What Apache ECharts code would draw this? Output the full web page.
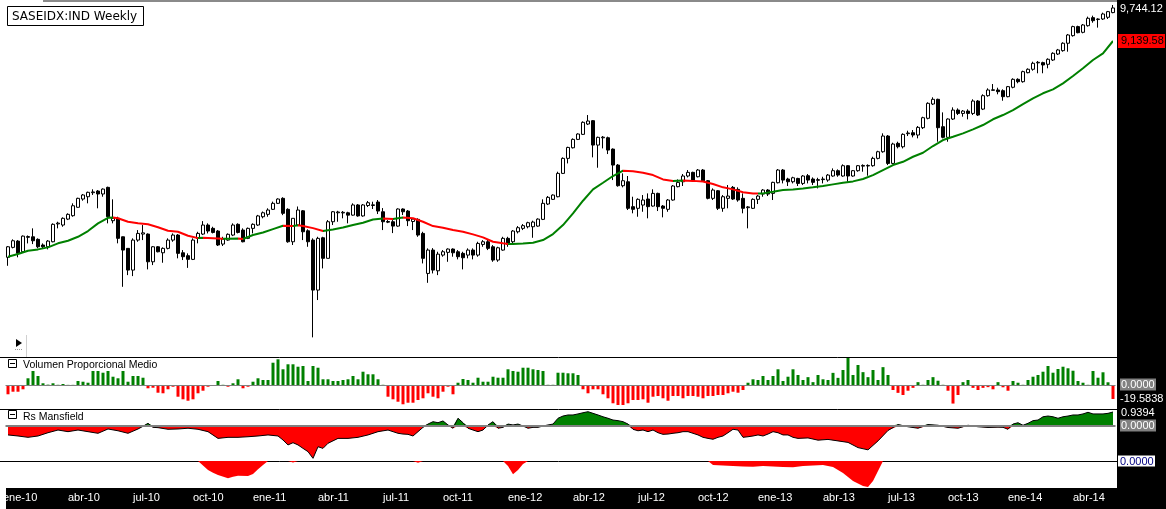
<!DOCTYPE html>
<html><head><meta charset="utf-8">
<script src="https://cdn.jsdelivr.net/npm/echarts@6/dist/echarts.min.js"></script>
<style>
html,body{margin:0;padding:0;background:#fff;}
#wrap{position:relative;width:1166px;height:509px;overflow:hidden;background:#fff;}
.strip{position:absolute;background:#000;}
#chart{position:absolute;left:0;top:0;width:1166px;height:509px;}
</style></head><body>
<div id="wrap">
<div class="strip" style="left:1117px;top:0;width:49px;height:509px"></div>
<div class="strip" style="left:6px;top:488px;width:1111px;height:21px"></div>
<div id="chart"></div>
</div>
<script>
// ---- weekly candles (SASEIDX:IND) ----
const opens = [6008,6125,6200,6073,6245,6252,6221,6153,6132,6192,
6410,6396,6470,6513,6620,6727,6757,6810,6832,6793,
6881,6450,6480,6252,6113,5861,6212,6285,6285,5956,
6132,6061,6113,6212,6273,6061,6027,5984,6233,6285,
6396,6355,6322,6164,6212,6273,6405,6334,6233,6355,
6396,6500,6530,6594,6671,6736,6594,6192,6396,6575,
6325,6212,5638,6240,5996,6437,6550,6548,6550,6520,
6650,6510,6643,6643,6688,6563,6440,6437,6383,6598,
6572,6440,6467,6293,5823,6093,5853,6034,6066,6105,
6073,6054,6034,6093,6034,6160,6192,6132,5976,6093,
6233,6192,6313,6355,6375,6375,6383,6467,6662,6723,
6757,7070,7279,7430,7552,7626,7780,7831,7469,7575,
7576,7411,7185,6903,6956,6628,6607,6649,6727,6636,
6801,6636,6594,6714,6890,6956,7034,7084,7024,7116,
6970,6736,6836,6607,6736,6881,6854,6736,6615,6607,
6723,6792,6845,6801,6943,7116,6993,6956,7001,6934,
7038,6993,6975,6985,6979,7034,7107,7034,7176,7034,
7107,7170,7172,7176,7279,7373,7601,7208,7494,7445,
7636,7650,7616,7725,7867,8088,8162,7740,7582,7856,
7994,7942,7978,7942,8135,8009,8220,8305,8311,8300,
8204,8355,8485,8446,8595,8652,8760,8764,8736,8809,
8912,8970,9100,9235,9398,9295,9415,9563,9528,9538,
9570,9657];
const highs = [6141,6221,6212,6268,6268,6355,6233,6172,6212,6417,
6437,6492,6543,6671,6744,6793,6824,6855,6845,6867,
6890,6723,6500,6255,6113,6233,6334,6396,6293,6141,
6141,6125,6233,6293,6285,6093,6054,6233,6313,6445,
6417,6375,6334,6252,6293,6417,6417,6355,6365,6417,
6523,6566,6607,6693,6736,6750,6607,6480,6630,6585,
6343,6233,6252,6252,6458,6572,6575,6572,6563,6671,
6662,6662,6701,6692,6714,6610,6458,6458,6606,6606,
6585,6480,6480,6313,6113,6116,6073,6093,6113,6113,
6093,6073,6113,6113,6192,6212,6220,6152,6132,6252,
6252,6334,6383,6408,6437,6450,6480,6723,6766,6788,
7093,7293,7445,7567,7641,7821,7917,7841,7592,7601,
7592,7421,7199,7070,7034,6757,6736,6779,6801,6855,
6810,6649,6727,6912,6988,7061,7116,7093,7130,7130,
6979,6867,6845,6779,6912,6899,6881,6801,6636,6736,
6779,6858,6858,6956,7130,7130,7010,7024,7010,7047,
7061,7015,7010,7024,7061,7139,7125,7195,7185,7116,
7185,7195,7195,7302,7387,7641,7616,7503,7518,7641,
7680,7690,7750,7891,8115,8194,8172,7958,7866,8036,
8020,7994,8005,8162,8151,8242,8338,8408,8348,8322,
8376,8502,8502,8628,8668,8780,8792,8780,8838,8942,
9000,9117,9265,9415,9415,9446,9582,9600,9551,9656,
9688,9800];
const lows = [5910,6113,6008,6066,6172,6164,6113,6113,6101,6185,
6355,6375,6458,6500,6615,6705,6671,6780,6607,6757,
6417,6417,6173,5674,5804,5793,6192,6212,5869,5918,
6066,5945,6101,6192,5996,5976,5886,5976,6173,6273,
6293,6293,6141,6141,6204,6260,6293,6185,6224,6293,
6385,6480,6500,6585,6662,6520,6180,6153,6385,6212,
6132,5144,5530,5880,5996,6396,6437,6480,6417,6513,
6500,6500,6623,6598,6534,6334,6420,6297,6375,6521,
6383,6334,6252,5937,5718,5823,5804,6015,5956,6015,
5984,5869,5996,5984,6015,6132,6093,5956,5956,6085,
6132,6172,6293,6334,6355,6240,6375,6458,6649,6714,
6749,7061,7208,7420,7542,7616,7765,7293,7148,7421,
7340,6979,6890,6881,6585,6543,6500,6563,6480,6628,
6572,6492,6563,6705,6881,6899,7015,6956,7015,6956,
6723,6714,6585,6563,6607,6714,6692,6543,6355,6598,
6662,6757,6766,6714,6934,6934,6899,6934,6899,6912,
6934,6912,6867,6934,6956,7024,7024,7024,6956,7024,
7093,7093,7038,7162,7265,7359,7185,7195,7421,7421,
7601,7582,7567,7705,7851,8072,7518,7567,7518,7841,
7917,7892,7851,7917,7902,7994,8204,8300,8242,8140,
8194,8338,8420,8430,8585,8628,8585,8585,8668,8792,
8895,8952,8952,9217,9277,9277,9398,9470,9380,9520,
9538,9645];
const closes = [6132,6204,6054,6260,6255,6204,6132,6132,6200,6405,
6420,6480,6530,6640,6736,6780,6815,6820,6793,6858,
6500,6480,6233,6093,5861,6212,6293,6300,5956,6132,
6073,6113,6212,6273,6054,6015,5984,6212,6293,6396,
6322,6305,6153,6224,6282,6396,6305,6192,6355,6405,
6510,6550,6585,6671,6727,6543,6192,6480,6585,6313,
6192,5638,6233,5996,6437,6563,6560,6556,6520,6650,
6510,6650,6679,6652,6572,6437,6432,6383,6598,6563,
6450,6470,6273,5996,6093,5861,6045,6073,6105,6061,
6015,6003,6093,6034,6172,6192,6113,5976,6120,6233,
6160,6322,6363,6388,6425,6433,6470,6671,6749,6779,
7070,7279,7435,7552,7631,7806,7826,7469,7582,7585,
7397,7185,6903,6970,6607,6594,6723,6714,6628,6801,
6628,6607,6714,6899,6948,7034,7084,6970,7116,6970,
6736,6845,6607,6757,6766,6727,6714,6607,6625,6723,
6766,6845,6792,6948,7116,6979,6956,7010,6934,7034,
6979,6948,6985,6993,7047,7107,7047,7176,7034,7107,
7176,7180,7180,7279,7373,7601,7208,7484,7445,7626,
7646,7616,7730,7876,8099,8162,7725,7582,7856,7994,
7942,7978,7942,8135,7917,8220,8311,8315,8284,8204,
8365,8485,8446,8612,8652,8753,8770,8724,8821,8924,
8982,9100,9247,9398,9288,9428,9551,9507,9538,9631,
9675,9744.12];

// ---- moving average [week, value] ----
const maPoints = [[0,6014],[2,6046],[4,6085],[6,6101],[8,6125],[10,6173],[12,6204],[14,6252],[16,6322],[18,6417],[20,6487],[21,6490],[22,6480],[24,6437],[26,6417],[28,6405],[30,6368],[32,6325],[34,6313],[36,6264],[38,6236],[39,6241],[41,6234],[43,6227],[44,6229],[46,6232],[47,6225],[49,6273],[51,6304],[53,6346],[55,6387],[57,6384],[58,6392],[59,6383],[61,6358],[63,6322],[65,6342],[67,6365],[69,6396],[71,6425],[73,6465],[75,6477],[77,6470],[79,6490],[81,6480],[83,6437],[85,6383],[87,6363],[89,6334],[91,6313],[93,6281],[95,6245],[97,6192],[99,6173],[100,6164],[101,6166],[103,6170],[105,6180],[107,6212],[109,6285],[111,6396],[113,6542],[115,6705],[117,6854],[119,6943],[121,7034],[123,7107],[125,7100],[127,7079],[129,7047],[131,6988],[133,6966],[135,6972],[137,6968],[139,6960],[141,6925],[143,6881],[145,6854],[147,6816],[149,6801],[150,6799],[151,6801],[153,6822],[155,6845],[157,6854],[159,6867],[161,6881],[163,6899],[165,6921],[167,6943],[169,6961],[171,6993],[173,7047],[175,7116],[177,7185],[179,7231],[181,7302],[183,7359],[185,7455],[187,7542],[189,7591],[191,7641],[193,7700],[195,7765],[197,7852],[199,7917],[201,7994],[203,8088],[205,8178],[207,8258],[209,8322],[211,8419],[213,8540],[215,8668],[217,8809],[219,8924],[221,9139.58]];

// ---- Volumen Proporcional Medio ----
const volValues = [-13.0,-9.4,-9.4,-6.0,9.4,19.6,12.6,2.4,0.5,2.4,
0.3,1.4,0.2,0.2,5.6,4.6,3.2,19.6,19.6,17.2,
19.6,11.6,9.4,19.6,4.6,12.6,12.6,10.2,-4.6,-3.8,
-10.8,-11.6,-6.0,-2.4,-16.4,-20.0,-22.0,-20.0,-11.6,-8.0,
-2.4,-0.3,5.6,0.3,-2.4,2.4,8.0,-4.6,-2.4,4.6,
9.4,7.0,7.0,31.2,36.0,22.0,29.0,29.0,25.6,26.6,
5.6,26.6,24.2,8.0,8.0,5.6,5.6,7.0,8.0,12.6,
8.0,18.6,15.0,15.0,8.0,0.3,-16.4,-20.0,-23.4,-27.0,
-24.8,-24.8,-21.0,-18.6,-11.6,-16.4,-18.6,-9.4,-2.4,-13.0,
3.2,8.4,7.0,3.2,10.2,4.6,4.6,11.6,10.2,10.2,
22.0,19.6,18.6,24.2,24.2,22.0,21.0,19.6,0.3,0.3,
17.2,17.2,16.4,16.4,14.0,-6.0,-11.6,-6.0,-6.0,-13.0,
-18.6,-25.6,-28.0,-28.0,-25.6,-21.0,-21.0,-20.0,-24.8,-16.4,
-15.4,-18.6,-22.0,-15.4,-15.4,-18.6,-15.4,-15.4,-16.4,-18.6,
-15.4,-15.4,-14.0,-14.0,-11.6,-9.4,-10.8,-7.0,3.2,8.0,
7.0,12.6,7.0,12.6,22.0,5.6,11.6,22.0,14.0,7.0,
11.0,4.0,14.0,8.0,7.0,17.0,10.0,21.0,38.0,14.0,
28.0,18.0,11.0,21.0,7.0,25.0,14.0,-7.0,-11.0,-14.0,
-8.0,-4.0,4.0,0.3,7.0,11.0,6.0,0.3,-8.0,-26.0,
-14.0,4.0,7.0,-4.0,-7.0,-4.0,-3.0,-6.0,4.0,-3.2,
-8.0,5.6,3.2,0.3,7.0,11.6,14.0,18.6,26.6,17.2,
22.4,25.6,23.4,20.0,5.6,3.2,0.3,19.6,10.2,17.8,
3.8,-19.5838];

// ---- Rs Mansfield [week, value] ----
const rsPoints = [[0,-0.60],[2,-0.67],[4,-0.76],[6,-0.67],[8,-0.45],[10,-0.27],[12,-0.38],[14,-0.27],[16,-0.38],[18,-0.49],[20,-0.20],[22,-0.32],[24,-0.49],[26,-0.20],[27,-0.02],[28,0.18],[29,-0.09],[30,-0.11],[32,-0.22],[34,-0.20],[36,-0.15],[38,-0.22],[40,-0.38],[42,-0.83],[44,-0.76],[46,-0.76],[48,-0.72],[50,-0.67],[52,-0.60],[54,-0.67],[55,-0.94],[56,-1.27],[57,-1.12],[58,-1.27],[59,-1.50],[60,-1.72],[61,-2.17],[62,-1.39],[63,-1.50],[64,-1.16],[66,-0.83],[68,-0.83],[70,-0.76],[72,-0.60],[74,-0.38],[76,-0.27],[78,-0.49],[79,-0.54],[80,-0.56],[81,-0.67],[82,-0.38],[83,-0.09],[84,0.13],[85,0.29],[86,0.22],[87,0.34],[88,0.07],[89,-0.15],[90,0.52],[91,0.22],[92,-0.15],[93,-0.27],[94,-0.38],[95,-0.27],[96,0.07],[97,0.29],[98,-0.15],[99,-0.09],[100,0.13],[101,0.07],[102,0.13],[103,0.00],[104,-0.15],[105,-0.09],[106,-0.09],[107,0.00],[108,0.07],[109,0.13],[110,0.52],[111,0.67],[112,0.74],[113,0.74],[114,0.81],[115,0.89],[116,0.96],[117,0.85],[118,0.74],[119,0.62],[120,0.52],[121,0.40],[122,0.36],[123,0.29],[124,0.13],[125,-0.22],[126,-0.32],[127,-0.27],[128,-0.38],[129,-0.27],[130,-0.45],[131,-0.56],[132,-0.54],[133,-0.49],[134,-0.45],[135,-0.38],[136,-0.38],[137,-0.49],[138,-0.60],[139,-0.76],[140,-0.83],[141,-0.89],[142,-0.76],[143,-0.67],[144,-0.45],[145,-0.22],[146,-0.27],[147,-0.76],[148,-0.72],[149,-0.67],[150,-0.60],[151,-0.67],[152,-0.54],[153,-0.38],[154,-0.45],[155,-0.60],[156,-0.60],[157,-0.76],[158,-0.83],[160,-0.80],[162,-0.95],[164,-0.90],[166,-1.00],[168,-1.10],[170,-1.45],[172,-1.60],[174,-1.00],[176,-0.30],[178,0.10],[180,-0.05],[182,-0.15],[184,0.10],[186,0.05],[188,-0.10],[190,-0.15],[192,0.05],[194,-0.05],[196,-0.10],[198,-0.08],[199,-0.09],[200,-0.22],[201,0.13],[202,0.22],[203,0.05],[204,0.18],[205,0.36],[206,0.40],[207,0.62],[208,0.67],[209,0.62],[210,0.52],[211,0.62],[212,0.67],[213,0.74],[214,0.74],[215,0.81],[216,0.92],[217,0.81],[218,0.81],[219,0.81],[220,0.85],[221,0.9394]];

// ---- lower indicator [week, value] ----
const lowerPoints = [[38,0],[40,-0.9],[41,-1.17],[42,-1.4],[44,-1.73],[45,-1.57],[46,-1.47],[48,-1.5],[49,-1.3],[50,-0.83],[51,-0.4],[52,0],[56,0],[57,-0.15],[58,0],[81,0],[82,-0.17],[83,0],[99,0],[100,-0.5],[101,-1.33],[102,-0.9],[103,-0.3],[104,0],[140,0],[141,-0.4],[143,-0.45],[145,-0.5],[147,-0.55],[149,-0.57],[151,-0.5],[153,-0.55],[155,-0.6],[157,-0.63],[159,-0.5],[161,-0.45],[163,-0.4],[165,-0.6],[167,-1.2],[169,-2.0],[171,-2.5],[172,-2.6],[173,-2.0],[174,-1.0],[175,0]];

// ---- x-axis month labels ----
const monthTicks = [0,13,26,38,50,63,76,88,101,114,127,139,151,164,177,189,201,214];
const monthLabels = ['ene-10','abr-10','jul-10','oct-10','ene-11','abr-11','jul-11','oct-11','ene-12','abr-12','jul-12','oct-12','ene-13','abr-13','jul-13','oct-13','ene-14','abr-14'];

const GREEN = '#008000', RED = '#ff0000';
const N = closes.length;
const weeks = closes.map((_, i) => String(i));
const candleData = closes.map((c, i) => [opens[i], c, lows[i], highs[i]]);
const labelMap = {};
monthTicks.forEach((t, i) => { labelMap[t] = monthLabels[i]; });

const maPieces = [];
for (let i = 0; i < maPoints.length - 1; i++) {
  const p = {gte: maPoints[i][0], color: maPoints[i+1][1] >= maPoints[i][1] ? GREEN : RED};
  if (i === maPoints.length - 2) p.lte = maPoints[i+1][0]; else p.lt = maPoints[i+1][0];
  maPieces.push(p);
}

const rsPos = rsPoints.map(p => [p[0], Math.max(p[1], 0)]);
const rsNeg = rsPoints.map(p => [p[0], Math.min(p[1], 0)]);

const GL = 5.5, GW = 1110;
function xAx(g, extra) {
  return Object.assign({type: 'category', gridIndex: g, data: weeks, boundaryGap: true, show: false}, extra || {});
}

const chart = echarts.init(document.getElementById('chart'), null, {renderer: 'canvas'});
const option = {
  animation: false,
  backgroundColor: 'transparent',
  grid: [
    {left: GL, width: GW, top: 0, height: 355},
    {left: GL, width: GW, top: 358, height: 50},
    {left: GL, width: GW, top: 410, height: 50},
    {left: GL, width: GW, top: 461, height: 27},
    {left: 0.5, width: GW, top: 487, height: 1}
  ],
  xAxis: [
    xAx(0), xAx(1), xAx(2), xAx(3),
    xAx(4, {show: true, axisLine: {show: false}, axisTick: {show: false}, splitLine: {show: false},
      axisLabel: {show: true, interval: (idx) => labelMap[idx] !== undefined,
        formatter: (v, idx) => labelMap[idx] || '', align: 'left', color: '#fff',
        fontSize: 11, fontFamily: 'Liberation Sans', margin: 4}})
  ],
  yAxis: [
    {type: 'log', gridIndex: 0, min: 4971, max: 9896, show: false},
    {type: 'value', gridIndex: 1, min: -32.2, max: 37.8, show: false},
    {type: 'value', gridIndex: 2, min: -2.281, max: 1.074, show: false},
    {type: 'value', gridIndex: 3, min: -2.7, max: 0, show: false},
    {type: 'value', gridIndex: 4, min: 0, max: 1, show: false}
  ],
  visualMap: [{type: 'piecewise', show: false, seriesIndex: 1, dimension: 0, pieces: maPieces}],
  series: [
    {type: 'candlestick', xAxisIndex: 0, yAxisIndex: 0, data: candleData, barWidth: 3,
      itemStyle: {color: '#ffffff', color0: '#000000', borderColor: '#000000', borderColor0: '#000000', borderWidth: 1}},
    {type: 'line', xAxisIndex: 0, yAxisIndex: 0, data: maPoints, symbol: 'none', lineStyle: {width: 2}, z: 3},
    {type: 'bar', xAxisIndex: 1, yAxisIndex: 1, barWidth: 3,
      data: volValues.map(v => ({value: v, itemStyle: {color: v >= 0 ? GREEN : RED}})),
      markLine: {silent: true, symbol: 'none', label: {show: false}, lineStyle: {color: '#808080', width: 1, type: 'solid'}, data: [{yAxis: 0}]}},
    {type: 'line', xAxisIndex: 2, yAxisIndex: 2, data: rsPos, symbol: 'none', lineStyle: {width: 0}, areaStyle: {color: GREEN, opacity: 1}},
    {type: 'line', xAxisIndex: 2, yAxisIndex: 2, data: rsNeg, symbol: 'none', lineStyle: {width: 0}, areaStyle: {color: RED, opacity: 1}},
    {type: 'line', xAxisIndex: 2, yAxisIndex: 2, data: rsPoints, symbol: 'none', lineStyle: {width: 1, color: '#000'}, z: 4,
      markLine: {silent: true, symbol: 'none', label: {show: false}, lineStyle: {color: '#808080', width: 2, type: 'solid'}, data: [{yAxis: 0}]}},
    {type: 'line', xAxisIndex: 3, yAxisIndex: 3, data: lowerPoints, symbol: 'none', lineStyle: {width: 0}, areaStyle: {color: RED, opacity: 1}},
    {type: 'line', xAxisIndex: 4, yAxisIndex: 4, data: [], symbol: 'none'}
  ],
  graphic: {elements: [
    {id: 'topline', type: 'line', shape: {x1: 43, y1: 1, x2: 1117, y2: 1}, style: {stroke: '#8a8a8a', lineWidth: 2}},
    {id: 'sep1', type: 'line', shape: {x1: 0, y1: 357.5, x2: 1117, y2: 357.5}, style: {stroke: '#000', lineWidth: 1}},
    {id: 'sep2', type: 'line', shape: {x1: 0, y1: 409.5, x2: 1117, y2: 409.5}, style: {stroke: '#000', lineWidth: 1}},
    {id: 'sep3', type: 'line', shape: {x1: 0, y1: 461.5, x2: 1117, y2: 461.5}, style: {stroke: '#000', lineWidth: 1}},
    {id: 'titlebox', type: 'rect', shape: {x: 7.5, y: 6.5, width: 136, height: 19}, style: {fill: '#fff', stroke: '#000', lineWidth: 1}},
    {id: 'title', type: 'text', x: 12, y: 16.5, style: {text: 'SASEIDX:IND Weekly', fill: '#000', font: '12px "DejaVu Sans"', verticalAlign: 'middle'}},
    {id: 'play', type: 'polygon', shape: {points: [[16, 339], [22, 343], [16, 347]]}, style: {fill: '#000'}},
    {id: 'playline', type: 'line', shape: {x1: 15, y1: 349.5, x2: 23, y2: 349.5}, style: {stroke: '#999', lineWidth: 1, lineDash: [1, 1]}},
    {id: 'vline', type: 'line', shape: {x1: 26.5, y1: 335, x2: 26.5, y2: 357}, style: {stroke: '#d0d0d0', lineWidth: 1}},
    {id: 'ic1', type: 'rect', shape: {x: 8.5, y: 359.5, width: 8, height: 8}, style: {fill: '#fff', stroke: '#000', lineWidth: 1}},
    {id: 'ic1l', type: 'line', shape: {x1: 10, y1: 363.5, x2: 15, y2: 363.5}, style: {stroke: '#000', lineWidth: 1}},
    {id: 'vt', type: 'text', x: 23, y: 365.5, style: {text: 'Volumen Proporcional Medio', fill: '#000', font: '10.5px "Liberation Sans"', verticalAlign: 'middle'}},
    {id: 'ic2', type: 'rect', shape: {x: 8.5, y: 410.5, width: 8, height: 8}, style: {fill: '#fff', stroke: '#000', lineWidth: 1}},
    {id: 'ic2l', type: 'line', shape: {x1: 10, y1: 414.5, x2: 15, y2: 414.5}, style: {stroke: '#000', lineWidth: 1}},
    {id: 'rt', type: 'text', x: 23, y: 417, style: {text: 'Rs Mansfield', fill: '#000', font: '10.5px "Liberation Sans"', verticalAlign: 'middle'}}
  ]}
};
chart.setOption(option);

// right-hand value labels placed through the axes' own scales
const py = (ax, v) => chart.convertToPixel({yAxisIndex: ax}, v);
const fmt = (v, d) => v.toLocaleString('en-US', {minimumFractionDigits: d, maximumFractionDigits: d});
const lastClose = closes[N - 1], lastMa = maPoints[maPoints.length - 1][1];
const lastVol = volValues[N - 1], lastRs = rsPoints[rsPoints.length - 1][1];
const yC = py(0, lastClose), yM = py(0, lastMa), yV0 = py(1, 0), yVL = py(1, lastVol);
const yR0 = py(2, 0), yRL = py(2, lastRs), yL0 = py(3, 0);
const F = '11px "Liberation Sans"';
const els = [
  {id: 'lc', type: 'text', x: 1120, y: yC + 1, style: {text: fmt(lastClose, 2), fill: '#fff', font: F, verticalAlign: 'middle'}, z: 10},
  {id: 'lmb', type: 'rect', shape: {x: 1118, y: yM - 7, width: 47, height: 14}, style: {fill: RED}, z: 9},
  {id: 'lm', type: 'text', x: 1121, y: yM, style: {text: fmt(lastMa, 2), fill: '#000', font: F, verticalAlign: 'middle'}, z: 10},
  {id: 'lv0b', type: 'rect', shape: {x: 1120, y: yV0 - 6.5, width: 36, height: 12}, style: {fill: '#808080'}, z: 9},
  {id: 'lv0', type: 'text', x: 1121, y: yV0, style: {text: (0).toFixed(4), fill: '#fff', font: F, verticalAlign: 'middle'}, z: 10},
  {id: 'lvl', type: 'text', x: 1120, y: yVL, style: {text: lastVol.toFixed(4), fill: '#fff', font: F, verticalAlign: 'middle'}, z: 10},
  {id: 'lrl', type: 'text', x: 1121, y: yRL + 1, style: {text: lastRs.toFixed(4), fill: '#fff', font: F, verticalAlign: 'middle'}, z: 10},
  {id: 'lr0b', type: 'rect', shape: {x: 1120, y: yR0 - 6.5, width: 36, height: 12}, style: {fill: '#808080'}, z: 9},
  {id: 'lr0', type: 'text', x: 1121, y: yR0, style: {text: (0).toFixed(4), fill: '#fff', font: F, verticalAlign: 'middle'}, z: 10},
  {id: 'll0b', type: 'rect', shape: {x: 1118, y: yL0 - 5.5, width: 37, height: 11}, style: {fill: '#fff'}, z: 9},
  {id: 'll0', type: 'text', x: 1120, y: yL0 + 0.5, style: {text: (0).toFixed(4), fill: '#000080', font: F, verticalAlign: 'middle'}, z: 10}
];
chart.setOption({graphic: {elements: els}});
</script>
</body></html>
